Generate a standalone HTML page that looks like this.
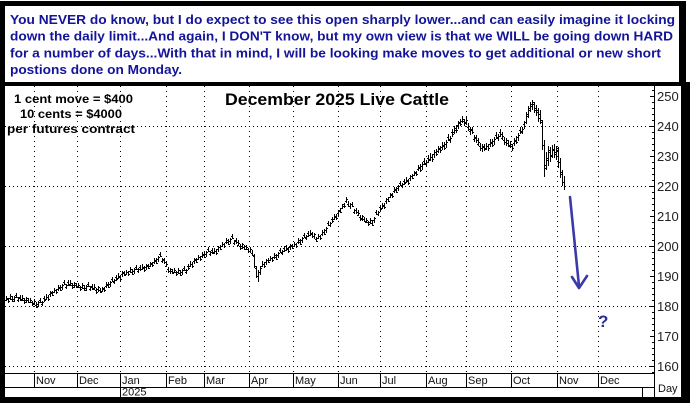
<!DOCTYPE html>
<html><head><meta charset="utf-8"><style>html,body{margin:0;padding:0;background:#fff}svg{display:block}</style></head>
<body>
<svg width="690" height="403" viewBox="0 0 690 403" xmlns="http://www.w3.org/2000/svg">
<rect width="690" height="403" fill="#fff"/>
<rect x="0" y="1" width="686" height="85" fill="#000"/>
<rect x="0" y="82" width="690" height="321" fill="#000"/>
<rect x="5" y="6" width="674" height="76" fill="#fff"/>
<rect x="5" y="86" width="676" height="311" fill="#fff"/>
<g font-family="'Liberation Sans', Arial, sans-serif" font-weight="bold" font-size="12.5" fill="#14149a" lengthAdjust="spacingAndGlyphs">
<text x="10" y="24" textLength="665" lengthAdjust="spacingAndGlyphs">You NEVER do know, but I do expect to see this open sharply lower...and can easily imagine it locking</text>
<text x="10" y="40.5" textLength="663" lengthAdjust="spacingAndGlyphs">down the daily limit...And again, I DON'T know, but my own view is that we WILL be going down HARD</text>
<text x="10" y="57.5" textLength="651" lengthAdjust="spacingAndGlyphs">for a number of days...With that in mind, I will be looking make moves to get additional or new short</text>
<text x="10" y="74" textLength="172" lengthAdjust="spacingAndGlyphs">postions done on Monday.</text>
</g>
<g stroke="#000" stroke-width="1" fill="none">
<path stroke-dasharray="1 3" d="M5 126.5H654M5 186.5H654M5 246.5H654M5 306.5H654M5 366.5H654"/>
<path stroke-dasharray="1 4" d="M34.5 86V373M77.5 86V373M120.5 86V373M166.5 86V373M204.5 86V373M249.5 86V373M293.5 86V373M338.5 86V373M380.5 86V373M426.5 86V373M466.5 86V373M511.5 86V373M557.5 86V373M598.5 86V373"/>
<path d="M654.5 86V397M5 373.5H654M5 387.5H654M34.5 373V387M77.5 373V387M120.5 373V397M166.5 373V387M204.5 373V387M249.5 373V387M293.5 373V387M338.5 373V387M380.5 373V387M426.5 373V387M466.5 373V387M511.5 373V387M557.5 373V387M598.5 373V387M642.5 387V397"/>
<path d="M650 96.5h4M650 126.5h4M650 156.5h4M650 186.5h4M650 216.5h4M650 246.5h4M650 276.5h4M650 306.5h4M650 336.5h4M650 366.5h4M652 90.5h2M652 102.5h2M652 108.5h2M652 114.5h2M652 120.5h2M652 132.5h2M652 138.5h2M652 144.5h2M652 150.5h2M652 162.5h2M652 168.5h2M652 174.5h2M652 180.5h2M652 192.5h2M652 198.5h2M652 204.5h2M652 210.5h2M652 222.5h2M652 228.5h2M652 234.5h2M652 240.5h2M652 252.5h2M652 258.5h2M652 264.5h2M652 270.5h2M652 282.5h2M652 288.5h2M652 294.5h2M652 300.5h2M652 312.5h2M652 318.5h2M652 324.5h2M652 330.5h2M652 342.5h2M652 348.5h2M652 354.5h2M652 360.5h2M652 372.5h2"/>
</g>
<g font-family="'Liberation Sans', Arial, sans-serif" font-size="13" fill="#222">
<text x="657" y="101">250</text><text x="657" y="131">240</text><text x="657" y="161">230</text><text x="657" y="191">220</text><text x="657" y="221">210</text><text x="657" y="251">200</text><text x="657" y="281">190</text><text x="657" y="311">180</text><text x="657" y="341">170</text><text x="657" y="371">160</text>
</g>
<g font-family="'Liberation Sans', Arial, sans-serif" font-size="11" fill="#111">
<text x="36" y="384">Nov</text><text x="79" y="384">Dec</text><text x="122" y="384">Jan</text><text x="168" y="384">Feb</text><text x="206" y="384">Mar</text><text x="251" y="384">Apr</text><text x="295" y="384">May</text><text x="340" y="384">Jun</text><text x="382" y="384">Jul</text><text x="428" y="384">Aug</text><text x="468" y="384">Sep</text><text x="513" y="384">Oct</text><text x="559" y="384">Nov</text><text x="600" y="384">Dec</text>
<text x="122" y="395.5">2025</text>
<text x="658" y="392">Day</text>
</g>
<g font-family="'Liberation Sans', Arial, sans-serif" font-weight="bold" fill="#000">
<text x="225" y="105" font-size="16.5" textLength="224" lengthAdjust="spacingAndGlyphs">December 2025 Live Cattle</text>
<text x="14" y="103" font-size="11.5" textLength="119" lengthAdjust="spacingAndGlyphs">1 cent move = $400</text>
<text x="20" y="118" font-size="11.5" textLength="102" lengthAdjust="spacingAndGlyphs">10 cents = $4000</text>
<text x="7" y="133" font-size="11.5" textLength="128" lengthAdjust="spacingAndGlyphs">per futures contract</text>
</g>
<path fill="none" stroke="#000" stroke-width="1" d="M6.5 296V301M5 300.5h1M7 298.5h1M8.5 298V303M7 299.5h1M9 301.5h1M10.5 294V300M9 298.5h1M11 296.5h1M12.5 296V302M11 299.5h1M13 301.5h1M14.5 296V302M13 299.5h1M15 297.5h1M16.5 293V298M15 295.5h1M17 297.5h1M18.5 297V302M17 300.5h1M19 298.5h1M20.5 295V301M19 297.5h1M21 299.5h1M22.5 295V301M21 300.5h1M23 298.5h1M24.5 298V304M23 300.5h1M25 302.5h1M26.5 297V303M25 300.5h1M27 298.5h1M28.5 298V303M27 300.5h1M29 302.5h1M30.5 298V303M29 302.5h1M31 300.5h1M32.5 301V306M31 302.5h1M33 304.5h1M34.5 299V305M33 303.5h1M35 301.5h1M36.5 302V308M35 305.5h1M37 307.5h1M38.5 301V307M37 304.5h1M39 302.5h1M40.5 298V303M39 300.5h1M41 302.5h1M42.5 301V306M41 304.5h1M43 302.5h1M44.5 296V302M43 298.5h1M45 300.5h1M46.5 294V300M45 299.5h1M47 297.5h1M48.5 295V301M47 297.5h1M49 299.5h1M50.5 291V297M49 294.5h1M51 292.5h1M52.5 291V296M51 293.5h1M53 295.5h1M54.5 288V293M53 292.5h1M55 290.5h1M56.5 289V294M55 290.5h1M57 292.5h1M58.5 285V291M57 289.5h1M59 287.5h1M60.5 285V291M59 288.5h1M61 290.5h1M62.5 284V290M61 287.5h1M63 285.5h1M64.5 280V285M63 282.5h1M65 284.5h1M66.5 284V289M65 287.5h1M67 285.5h1M68.5 280V286M67 282.5h1M69 284.5h1M70.5 280V286M69 285.5h1M71 283.5h1M72.5 283V289M71 285.5h1M73 287.5h1M74.5 282V288M73 285.5h1M75 283.5h1M76.5 283V288M75 285.5h1M77 287.5h1M78.5 283V288M77 287.5h1M79 285.5h1M80.5 286V291M79 287.5h1M81 289.5h1M82.5 283V289M81 287.5h1M83 285.5h1M84.5 285V291M83 288.5h1M85 290.5h1M86.5 285V291M85 288.5h1M87 286.5h1M88.5 282V287M87 284.5h1M89 286.5h1M90.5 286V291M89 289.5h1M91 287.5h1M92.5 284V290M91 286.5h1M93 288.5h1M94.5 284V290M93 289.5h1M95 287.5h1M96.5 288V294M95 290.5h1M97 292.5h1M98.5 286V292M97 289.5h1M99 287.5h1M100.5 288V293M99 290.5h1M101 292.5h1M102.5 287V292M101 291.5h1M103 289.5h1M104.5 287V292M103 288.5h1M105 290.5h1M106.5 282V288M105 286.5h1M107 284.5h1M108.5 282V288M107 285.5h1M109 287.5h1M110.5 281V287M109 284.5h1M111 282.5h1M112.5 277V282M111 279.5h1M113 281.5h1M114.5 279V284M113 282.5h1M115 280.5h1M116.5 275V281M115 277.5h1M117 279.5h1M118.5 273V279M117 278.5h1M119 276.5h1M120.5 275V281M119 277.5h1M121 279.5h1M122.5 271V277M121 274.5h1M123 272.5h1M124.5 271V276M123 273.5h1M125 275.5h1M126.5 270V275M125 274.5h1M127 272.5h1M128.5 271V276M127 272.5h1M129 274.5h1M130.5 267V273M129 271.5h1M131 269.5h1M132.5 269V275M131 272.5h1M133 274.5h1M134.5 268V274M133 271.5h1M135 269.5h1M136.5 265V270M135 267.5h1M137 269.5h1M138.5 268V273M137 271.5h1M139 269.5h1M140.5 265V271M139 267.5h1M141 269.5h1M142.5 264V270M141 269.5h1M143 267.5h1M144.5 266V272M143 268.5h1M145 270.5h1M146.5 264V270M145 267.5h1M147 265.5h1M148.5 264V269M147 266.5h1M149 268.5h1M150.5 262V267M149 266.5h1M151 264.5h1M152.5 262V267M151 263.5h1M153 265.5h1M154.5 258V264M153 262.5h1M155 260.5h1M156.5 258V264M155 261.5h1M157 263.5h1M158.5 256V262M157 259.5h1M159 257.5h1M160.5 252V257M159 254.5h1M161 256.5h1M162.5 258V263M161 261.5h1M163 259.5h1M164.5 258V264M163 260.5h1M165 262.5h1M166.5 261V267M165 266.5h1M167 264.5h1M168.5 267V273M167 269.5h1M169 271.5h1M170.5 268V274M169 271.5h1M171 269.5h1M172.5 269V274M171 271.5h1M173 273.5h1M174.5 268V273M173 272.5h1M175 270.5h1M176.5 271V276M175 272.5h1M177 274.5h1M178.5 268V274M177 272.5h1M179 270.5h1M180.5 270V276M179 273.5h1M181 275.5h1M182.5 269V275M181 272.5h1M183 270.5h1M184.5 266V271M183 268.5h1M185 270.5h1M186.5 269V274M185 272.5h1M187 270.5h1M188.5 264V270M187 266.5h1M189 268.5h1M190.5 261V267M189 266.5h1M191 264.5h1M192.5 262V268M191 264.5h1M193 266.5h1M194.5 258V264M193 261.5h1M195 259.5h1M196.5 258V263M195 260.5h1M197 262.5h1M198.5 255V260M197 259.5h1M199 257.5h1M200.5 256V261M199 257.5h1M201 259.5h1M202.5 252V258M201 256.5h1M203 254.5h1M204.5 252V258M203 255.5h1M205 257.5h1M206.5 251V257M205 254.5h1M207 252.5h1M208.5 247V252M207 249.5h1M209 251.5h1M210.5 251V256M209 254.5h1M211 252.5h1M212.5 248V254M211 250.5h1M213 252.5h1M214.5 248V254M213 253.5h1M215 251.5h1M216.5 249V255M215 251.5h1M217 253.5h1M218.5 246V252M217 249.5h1M219 247.5h1M220.5 245V250M219 247.5h1M221 249.5h1M222.5 242V247M221 246.5h1M223 244.5h1M224.5 243V248M223 244.5h1M225 246.5h1M226.5 238V244M225 242.5h1M227 240.5h1M228.5 239V245M227 242.5h1M229 244.5h1M230.5 238V244M229 241.5h1M231 239.5h1M232.5 234V239M231 236.5h1M233 238.5h1M234.5 240V245M233 243.5h1M235 241.5h1M236.5 238V244M235 240.5h1M237 242.5h1M238.5 240V246M237 245.5h1M239 243.5h1M240.5 244V250M239 246.5h1M241 248.5h1M242.5 243V249M241 246.5h1M243 244.5h1M244.5 245V250M243 247.5h1M245 249.5h1M246.5 245V250M245 249.5h1M247 247.5h1M248.5 248V253M247 249.5h1M249 251.5h1M250.5 247V253M249 251.5h1M251 249.5h1M252.5 250V256M251 253.5h1M253 255.5h1M254.5 254V268M253 256.5h1M255 266.5h1M256.5 266V278M255 268.5h1M257 276.5h1M258.5 270V282M257 276.5h1M259 272.5h1M260.5 266V275M259 272.5h1M261 268.5h1M262.5 261V267M261 266.5h1M263 264.5h1M264.5 262V268M263 264.5h1M265 266.5h1M266.5 259V265M265 262.5h1M267 260.5h1M268.5 258V263M267 260.5h1M269 262.5h1M270.5 256V261M269 260.5h1M271 258.5h1M272.5 257V262M271 258.5h1M273 260.5h1M274.5 253V259M273 257.5h1M275 255.5h1M276.5 254V260M275 257.5h1M277 259.5h1M278.5 252V258M277 255.5h1M279 253.5h1M280.5 248V253M279 250.5h1M281 252.5h1M282.5 250V255M281 253.5h1M283 251.5h1M284.5 246V252M283 248.5h1M285 250.5h1M286.5 245V251M285 250.5h1M287 248.5h1M288.5 247V253M287 249.5h1M289 251.5h1M290.5 244V250M289 247.5h1M291 245.5h1M292.5 244V249M291 246.5h1M293 248.5h1M294.5 242V247M293 246.5h1M295 244.5h1M296.5 243V248M295 244.5h1M297 246.5h1M298.5 238V244M297 242.5h1M299 240.5h1M300.5 239V245M299 242.5h1M301 244.5h1M302.5 237V243M301 240.5h1M303 238.5h1M304.5 233V238M303 235.5h1M305 237.5h1M306.5 235V240M305 238.5h1M307 236.5h1M308.5 231V237M307 233.5h1M309 235.5h1M310.5 230V236M309 235.5h1M311 233.5h1M312.5 232V238M311 234.5h1M313 236.5h1M314.5 233V239M313 236.5h1M315 234.5h1M316.5 237V242M315 239.5h1M317 241.5h1M318.5 234V239M317 238.5h1M319 236.5h1M320.5 235V240M319 236.5h1M321 238.5h1M322.5 230V236M321 234.5h1M323 232.5h1M324.5 229V235M323 232.5h1M325 234.5h1M326.5 227V233M325 230.5h1M327 228.5h1M328.5 221V226M327 223.5h1M329 225.5h1M330.5 222V227M329 225.5h1M331 223.5h1M332.5 217V223M331 219.5h1M333 221.5h1M334.5 214V220M333 219.5h1M335 217.5h1M336.5 214V220M335 216.5h1M337 218.5h1M338.5 210V216M337 213.5h1M339 211.5h1M340.5 208V213M339 210.5h1M341 212.5h1M342.5 204V209M341 208.5h1M343 206.5h1M344.5 203V208M343 204.5h1M345 206.5h1M346.5 197V203M345 201.5h1M347 199.5h1M348.5 201V207M347 204.5h1M349 206.5h1M350.5 203V209M349 206.5h1M351 204.5h1M352.5 202V207M351 204.5h1M353 206.5h1M354.5 209V214M353 212.5h1M355 210.5h1M356.5 208V214M355 210.5h1M357 212.5h1M358.5 210V216M357 215.5h1M359 213.5h1M360.5 215V221M359 217.5h1M361 219.5h1M362.5 215V221M361 218.5h1M363 216.5h1M364.5 217V222M363 219.5h1M365 221.5h1M366.5 218V223M365 222.5h1M367 220.5h1M368.5 221V226M367 222.5h1M369 224.5h1M370.5 218V224M369 222.5h1M371 220.5h1M372.5 220V226M371 223.5h1M373 225.5h1M374.5 217V223M373 220.5h1M375 218.5h1M376.5 210V215M375 212.5h1M377 214.5h1M378.5 211V216M377 214.5h1M379 212.5h1M380.5 205V211M379 207.5h1M381 209.5h1M382.5 203V209M381 208.5h1M383 206.5h1M384.5 203V209M383 205.5h1M385 207.5h1M386.5 198V204M385 201.5h1M387 199.5h1M388.5 197V202M387 199.5h1M389 201.5h1M390.5 193V198M389 197.5h1M391 195.5h1M392.5 193V198M391 194.5h1M393 196.5h1M394.5 187V193M393 191.5h1M395 189.5h1M396.5 187V193M395 190.5h1M397 192.5h1M398.5 185V191M397 188.5h1M399 186.5h1M400.5 181V186M399 183.5h1M401 185.5h1M402.5 183V188M401 186.5h1M403 184.5h1M404.5 179V185M403 181.5h1M405 183.5h1M406.5 177V183M405 182.5h1M407 180.5h1M408.5 179V185M407 181.5h1M409 183.5h1M410.5 175V181M409 178.5h1M411 176.5h1M412.5 174V179M411 176.5h1M413 178.5h1M414.5 171V176M413 175.5h1M415 173.5h1M416.5 171V176M415 172.5h1M417 174.5h1M418.5 165V171M417 169.5h1M419 167.5h1M420.5 164V172M419 168.5h1M421 170.5h1M422.5 162V170M421 166.5h1M423 164.5h1M424.5 158V165M423 161.5h1M425 163.5h1M426.5 160V167M425 164.5h1M427 162.5h1M428.5 155V163M427 158.5h1M429 160.5h1M430.5 153V161M429 159.5h1M431 157.5h1M432.5 154V162M431 157.5h1M433 159.5h1M434.5 150V158M433 154.5h1M435 152.5h1M436.5 149V156M435 152.5h1M437 154.5h1M438.5 146V153M437 151.5h1M439 149.5h1M440.5 146V153M439 148.5h1M441 150.5h1M442.5 142V150M441 147.5h1M443 145.5h1M444.5 142V150M443 146.5h1M445 148.5h1M446.5 140V148M445 144.5h1M447 142.5h1M448.5 134V141M447 137.5h1M449 139.5h1M450.5 136V143M449 140.5h1M451 138.5h1M452.5 129V137M451 132.5h1M453 134.5h1M454.5 126V134M453 132.5h1M455 130.5h1M456.5 125V133M455 128.5h1M457 130.5h1M458.5 121V129M457 125.5h1M459 123.5h1M460.5 119V126M459 122.5h1M461 124.5h1M462.5 116V123M461 121.5h1M463 119.5h1M464.5 119V126M463 121.5h1M465 123.5h1M466.5 117V125M465 122.5h1M467 120.5h1M468.5 123V131M467 127.5h1M469 129.5h1M470.5 127V135M469 131.5h1M471 129.5h1M472.5 127V134M471 130.5h1M473 132.5h1M474.5 135V142M473 139.5h1M475 137.5h1M476.5 135V143M475 138.5h1M477 140.5h1M478.5 138V146M477 144.5h1M479 142.5h1M480.5 143V151M479 146.5h1M481 148.5h1M482.5 144V152M481 148.5h1M483 146.5h1M484.5 144V151M483 147.5h1M485 149.5h1M486.5 143V150M485 148.5h1M487 146.5h1M488.5 144V151M487 146.5h1M489 148.5h1M490.5 139V147M489 144.5h1M491 142.5h1M492.5 139V147M491 143.5h1M493 145.5h1M494.5 137V145M493 141.5h1M495 139.5h1M496.5 132V139M495 135.5h1M497 137.5h1M498.5 134V141M497 138.5h1M499 136.5h1M500.5 129V137M499 132.5h1M501 134.5h1M502.5 132V140M501 138.5h1M503 136.5h1M504.5 137V145M503 140.5h1M505 142.5h1M506.5 138V146M505 142.5h1M507 140.5h1M508.5 140V147M507 143.5h1M509 145.5h1M510.5 141V148M509 146.5h1M511 144.5h1M512.5 144V151M511 146.5h1M513 148.5h1M514.5 138V146M513 143.5h1M515 141.5h1M516.5 136V144M515 140.5h1M517 142.5h1M518.5 133V141M517 137.5h1M519 135.5h1M520.5 127V134M519 130.5h1M521 132.5h1M522.5 127V134M521 131.5h1M523 129.5h1M524.5 121V129M523 124.5h1M525 126.5h1M526.5 112V124M525 122.5h1M527 114.5h1M528.5 106V118M527 116.5h1M529 108.5h1M530.5 102V112M529 110.5h1M531 104.5h1M532.5 100V110M531 106.5h1M533 102.5h1M534.5 102V113M533 104.5h1M535 110.5h1M536.5 105V116M535 108.5h1M537 112.5h1M538.5 108V122M537 110.5h1M539 118.5h1M540.5 110V124M539 114.5h1M541 120.5h1M542.5 120V150M541 122.5h1M543 145.5h1M544.5 140V177M543 145.5h1M545 168.5h1M546.5 152V170M545 165.5h1M547 158.5h1M548.5 146V166M547 160.5h1M549 150.5h1M550.5 147V162M549 152.5h1M551 156.5h1M552.5 145V158M551 155.5h1M553 149.5h1M554.5 144V158M553 150.5h1M555 154.5h1M556.5 146V160M555 152.5h1M557 148.5h1M558.5 147V168M557 150.5h1M559 162.5h1M560.5 158V178M559 162.5h1M561 172.5h1M562.5 170V186M561 174.5h1M563 182.5h1M564.5 176V190M563 182.5h1M565 186.5h1"/>
<g stroke="#3a3aa8" stroke-width="2.6" fill="none" stroke-linecap="round" stroke-linejoin="round">
<path d="M570 197L579 286"/>
<path d="M572 277L579 288L587 276"/>
</g>
<text x="598" y="327" font-family="'Liberation Sans', Arial, sans-serif" font-weight="bold" font-size="17" fill="#2a2aa0">?</text>
</svg>
</body></html>
